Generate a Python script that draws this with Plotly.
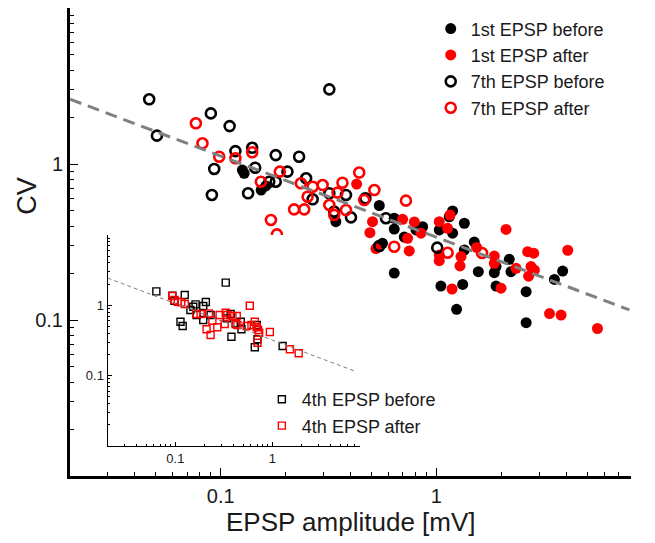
import plotly.graph_objects as go

# ---------------- main panel data ----------------
first_before_x = [0.126, 0.1285, 0.154, 0.162, 0.342, 0.544, 0.638, 0.638, 0.805, 0.710, 0.563, 0.638,
                  0.864, 1.19, 1.148, 1.349, 1.032, 1.19, 1.50, 1.349, 1.566, 1.05, 1.325, 1.242,
                  1.858, 1.892, 2.18, 2.22, 1.892, 3.855, 3.53, 2.61, 2.61]
first_before_y = [0.915, 0.872, 0.681, 0.723, 0.427, 0.542, 0.383, 0.449, 0.378, 0.340, 0.310, 0.200,
                  0.396, 0.500, 0.459, 0.417, 0.378, 0.360, 0.316, 0.281, 0.204, 0.165, 0.169, 0.117,
                  0.201, 0.165, 0.245, 0.204, 0.220, 0.206, 0.182, 0.152, 0.0961]

first_after_x = [0.427, 0.506, 0.492, 0.698, 0.791, 0.736, 0.749, 0.525, 0.849, 1.032, 1.158, 1.128,
                 1.032, 1.032, 1.302, 1.288, 1.183, 1.538, 1.858, 1.858, 1.996, 2.106, 2.344, 2.653,
                 2.829, 4.07, 2.75, 2.85, 2.68, 3.35, 3.79, 5.59]
first_after_y = [0.744, 0.427, 0.363, 0.442, 0.425, 0.334, 0.277, 0.287, 0.360, 0.427, 0.471, 0.387,
                 0.261, 0.240, 0.255, 0.222, 0.158, 0.292, 0.257, 0.231, 0.160, 0.381, 0.2145, 0.274,
                 0.268, 0.280, 0.220, 0.209, 0.191, 0.110, 0.1076, 0.0882]

seventh_before_x = [0.0466, 0.0506, 0.090, 0.110, 0.117, 0.140, 0.180, 0.0933, 0.1445, 0.091, 0.134,
                    0.168, 0.180, 0.204, 0.231, 0.249, 0.267, 0.319, 0.381, 0.336, 0.402, 0.469,
                    0.544, 0.584, 0.319, 1.01]
seventh_before_y = [2.60, 1.52, 2.11, 1.75, 1.21, 1.27, 1.14, 0.929, 0.947, 0.633, 0.649,
                    0.770, 0.770, 0.893, 1.114, 0.810, 0.594, 0.649, 0.633, 0.495, 0.455, 0.603,
                    0.298, 0.449, 3.01, 0.291]

seventh_after_x = [0.0767, 0.0823, 0.0984, 0.117, 0.140, 0.188, 0.1536, 0.171, 0.1823, 0.2355, 0.267,
                   0.297, 0.367, 0.253, 0.348, 0.319, 0.219, 0.244, 0.381, 0.463, 0.516, 0.723,
                   0.638, 0.336, 0.439, 1.128, 1.63]
seventh_after_y = [1.824, 1.357, 1.114, 1.088, 1.189, 0.893, 0.770, 0.438, 0.354, 0.752, 0.715,
                   0.733, 0.759, 0.617, 0.655, 0.546, 0.512, 0.512, 0.507, 0.588, 0.681, 0.582,
                   0.295, 0.471, 0.882, 0.270, 0.269]

fit_main_x = [0.02, 7.86]
fit_main_y = [2.60, 0.116]

# ---------------- inset data ----------------
fourth_before_x = [0.0637, 0.331, 0.0933, 0.125, 0.0979, 0.113, 0.119, 0.143, 0.153, 0.1616, 0.1655,
                   0.194, 0.2065, 0.194, 0.231, 0.339, 0.372, 0.379, 0.4195, 0.473, 0.481, 0.692,
                   0.704, 0.660, 1.279]
fourth_before_y = [1.58, 2.10, 1.37, 1.40, 1.16, 0.585, 0.508, 0.857, 0.955, 1.033, 0.728,
                   0.977, 1.114, 0.618, 0.728, 0.653, 0.752, 0.358, 0.555, 0.585, 0.456, 0.525,
                   0.329, 0.253, 0.264]

fourth_after_x = [0.0927, 0.098, 0.106, 0.115, 0.125, 0.164, 0.182, 0.222, 0.210, 0.231, 0.241,
                  0.271, 0.286, 0.323, 0.331, 0.344, 0.388, 0.430, 0.4195, 0.437, 0.5455, 0.586,
                  0.610, 0.660, 0.692, 0.714, 0.732, 0.704, 0.944, 1.52, 1.873]
fourth_after_y = [1.356, 1.19, 1.125, 1.103, 1.043, 0.752, 0.752, 0.769, 0.456, 0.378, 0.604,
                  0.487, 0.728, 0.542, 0.785, 0.728, 0.705, 0.705, 0.542, 0.525, 0.508, 0.987,
                  0.525, 0.585, 0.487, 0.445, 0.408, 0.294, 0.417, 0.237, 0.208]

fit_inset_x = [0.02, 7.35]
fit_inset_y = [2.44, 0.114]

tick_vals = [0.1, 1]
tick_text = ["0.1", "1"]
minor_x = [0.02, 0.03, 0.04, 0.05, 0.06, 0.07, 0.08, 0.09,
           0.2, 0.3, 0.4, 0.5, 0.6, 0.7, 0.8, 0.9, 2, 3, 4, 5, 6, 7, 8]
minor_y = [0.02, 0.03, 0.04, 0.05, 0.06, 0.07, 0.08, 0.09,
           0.2, 0.3, 0.4, 0.5, 0.6, 0.7, 0.8, 0.9, 2, 3, 4, 5, 6, 7, 8, 9]

FONT = "Liberation Sans, Arial, sans-serif"
TXT = "#1a1a1a"
RED = "#ff0000"

fig = go.Figure()

fig.add_trace(go.Scatter(x=first_before_x, y=first_before_y, mode="markers", name="1st EPSP before",
                         marker=dict(symbol="circle", size=11, color="black"), legend="legend"))
fig.add_trace(go.Scatter(x=first_after_x, y=first_after_y, mode="markers", name="1st EPSP after",
                         marker=dict(symbol="circle", size=11, color=RED), legend="legend"))
fig.add_trace(go.Scatter(x=seventh_before_x, y=seventh_before_y, mode="markers", name="7th EPSP before",
                         marker=dict(symbol="circle-open", size=10, color="black",
                                     line=dict(width=2.6, color="black")), legend="legend"))
fig.add_trace(go.Scatter(x=seventh_after_x, y=seventh_after_y, mode="markers", name="7th EPSP after",
                         marker=dict(symbol="circle-open", size=10, color=RED,
                                     line=dict(width=2.6, color=RED)), legend="legend"))
fig.add_trace(go.Scatter(x=fit_main_x, y=fit_main_y, mode="lines", showlegend=False,
                         line=dict(color="#808080", width=3, dash="12px,7px"), hoverinfo="skip"))

fig.add_trace(go.Scatter(x=fourth_before_x, y=fourth_before_y, mode="markers", name="4th EPSP before",
                         xaxis="x2", yaxis="y2",
                         marker=dict(symbol="square-open", size=7, color="black",
                                     line=dict(width=1.4, color="black")), legend="legend2"))
fig.add_trace(go.Scatter(x=fourth_after_x, y=fourth_after_y, mode="markers", name="4th EPSP after",
                         xaxis="x2", yaxis="y2",
                         marker=dict(symbol="square-open", size=7, color=RED,
                                     line=dict(width=1.4, color=RED)), legend="legend2"))
fig.add_trace(go.Scatter(x=fit_inset_x, y=fit_inset_y, mode="lines", showlegend=False,
                         xaxis="x2", yaxis="y2",
                         line=dict(color="#808080", width=1, dash="4px,3px"), hoverinfo="skip"))

def axis_common(linewidth, ticklen, minorlen, fsize, vals_minor):
    return dict(type="log", showgrid=False, zeroline=False, showline=True, linecolor="black",
                linewidth=linewidth, ticks="inside", ticklen=ticklen, tickwidth=1.4,
                tickcolor="black", tickmode="array", tickvals=tick_vals, ticktext=tick_text,
                tickfont=dict(family=FONT, size=fsize, color=TXT),
                minor=dict(tickmode="array", tickvals=vals_minor, ticks="inside",
                           ticklen=minorlen, tickwidth=1.1, tickcolor="black"))

xa = axis_common(3, 8, 4, 20, minor_x)
xa.update(range=[-1.699, 0.903], domain=[0, 1], anchor="y")
ya = axis_common(3, 8, 4, 20, minor_y)
ya.update(range=[-2, 1], domain=[0, 1], anchor="x")

xa2 = axis_common(1.2, 4, 2, 13, minor_x)
xa2.update(range=[-1.699, 0.903], domain=[0.067, 0.5166], anchor="y2")
ya2 = axis_common(1.2, 4, 2, 13, minor_y)
ya2.update(range=[-2, 1], domain=[0.0641, 0.515], anchor="x2")

fig.update_layout(
    width=647, height=535,
    margin=dict(l=62, r=24, t=0, b=67),
    paper_bgcolor="white", plot_bgcolor="white",
    font=dict(family=FONT, color=TXT),
    xaxis=xa, yaxis=ya, xaxis2=xa2, yaxis2=ya2,
    legend=dict(x=0.643, y=0.995, xanchor="left", yanchor="top", bgcolor="rgba(0,0,0,0)",
                font=dict(family=FONT, size=18, color=TXT), tracegroupgap=0,
                itemwidth=30),
    legend2=dict(x=0.342, y=0.203, xanchor="left", yanchor="top", bgcolor="rgba(0,0,0,0)",
                 font=dict(family=FONT, size=18, color=TXT), tracegroupgap=0,
                 itemwidth=30),
    annotations=[
        dict(text="CV", x=-0.0758, y=0.60, xref="paper", yref="paper", showarrow=False,
             xanchor="center", yanchor="middle",
             textangle=-90, font=dict(family=FONT, size=27, color=TXT)),
        dict(text="EPSP amplitude [mV]", x=0.5, y=-0.0983, xref="paper", yref="paper",
             showarrow=False, xanchor="center", yanchor="middle",
             font=dict(family=FONT, size=26, color=TXT)),
    ],
)

fig.write_html("out.html")
